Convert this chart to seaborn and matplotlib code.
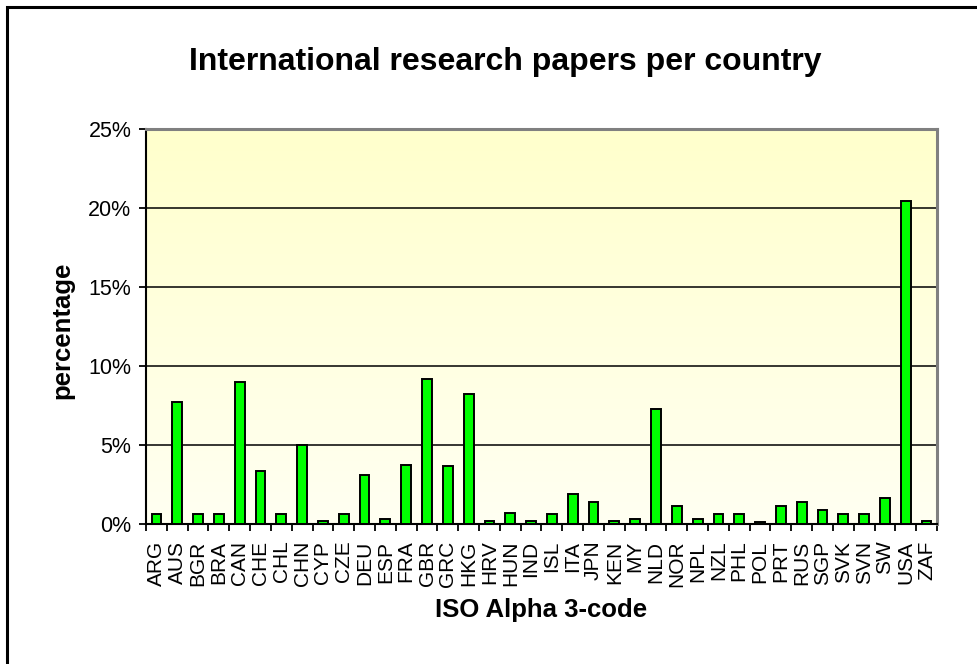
import numpy as np
import pandas as pd
import matplotlib
matplotlib.use("Agg")
import matplotlib.pyplot as plt
from matplotlib.patches import Rectangle
from matplotlib.colors import LinearSegmentedColormap
from matplotlib.ticker import FixedLocator, FuncFormatter
import seaborn as sns

countries = ["ARG", "AUS", "BGR", "BRA", "CAN", "CHE", "CHL", "CHN", "CYP", "CZE",
             "DEU", "ESP", "FRA", "GBR", "GRC", "HKG", "HRV", "HUN", "IND", "ISL",
             "ITA", "JPN", "KEN", "MY", "NLD", "NOR", "NPL", "NZL", "PHL", "POL",
             "PRT", "RUS", "SGP", "SVK", "SVN", "SW", "USA", "ZAF"]
share = [0.61, 7.7, 0.61, 0.61, 8.97, 3.37, 0.61, 5.0, 0.22, 0.61,
         3.12, 0.34, 3.75, 9.2, 3.65, 8.2, 0.22, 0.72, 0.22, 0.61,
         1.88, 1.37, 0.22, 0.34, 7.3, 1.12, 0.34, 0.61, 0.61, 0.1,
         1.12, 1.37, 0.87, 0.61, 0.61, 1.63, 20.45, 0.22]
yticks = [0, 5, 10, 15, 20, 25]

df = pd.DataFrame({"country": countries, "share": share})

sns.set_style("white")
plt.rcParams["font.family"] = ["Liberation Sans", "DejaVu Sans"]
plt.rcParams.update({"text.color": "black", "axes.labelcolor": "black",
                     "xtick.color": "black", "ytick.color": "black"})

fig = plt.figure(figsize=(9.78, 6.64), dpi=100)
fig.patch.set_facecolor("white")

# outer chart frame
fig.add_artist(Rectangle((7 / 978, -0.05), 1.2, 1 - 7 / 664 + 0.05,
                         transform=fig.transFigure, fill=False,
                         edgecolor="black", linewidth=2.2, zorder=0))

ax = fig.add_axes([146 / 978, 1 - 524 / 664, (937 - 146) / 978, (524 - 129) / 664])

# pale yellow gradient fill of the plotting area
cmap = LinearSegmentedColormap.from_list("bg", ["#FFFFF2", "#FFFFCC"])
grad = np.linspace(0, 1, 256).reshape(-1, 1)
ax.imshow(grad, aspect="auto", cmap=cmap, origin="lower",
          extent=[0, 1, 0, 1], transform=ax.transAxes, zorder=0)

sns.barplot(data=df, x="country", y="share", color="#00FF00", width=0.47,
            edgecolor="black", linewidth=1.4, saturation=1, ax=ax, zorder=3)

n = len(countries)
ax.set_xlim(-0.5, n - 0.5)
ax.set_ylim(0, 25)
ax.set_yticks(yticks)
ax.yaxis.set_major_formatter(FuncFormatter(lambda v, p: f"{v:.0f}%"))
for v in yticks[1:-1]:
    ax.axhline(v, color="black", linewidth=1.1, zorder=2)

ax.xaxis.set_minor_locator(FixedLocator(np.arange(-0.5, n, 1.0)))
ax.tick_params(axis="x", which="major", length=0, labelsize=15, rotation=90, pad=12)
ax.tick_params(axis="x", which="minor", length=5, width=1.3, color="black", direction="out")
ax.tick_params(axis="y", length=5, width=1.3, color="black", direction="out",
               labelsize=15.5, pad=5.5)
ax.tick_params(bottom=True, left=True, which="both")

for s in ["left", "bottom"]:
    ax.spines[s].set_color("black")
    ax.spines[s].set_linewidth(1.5)
for s in ["top", "right"]:
    ax.spines[s].set_color("#808080")
    ax.spines[s].set_linewidth(2.2)
    ax.spines[s].set_visible(True)

ax.set_xlabel("")
ax.set_ylabel("")
fig.text(541 / 978, 1 - 610 / 664, "ISO Alpha 3-code", ha="center", va="center",
         fontsize=18.5, fontweight="bold")
fig.text(62 / 978, 1 - 330 / 664, "percentage", ha="center", va="center",
         rotation=90, fontsize=18.5, fontweight="bold")

fig.text(505 / 978, 1 - 62 / 664, "International research papers per country",
         ha="center", va="center", fontsize=23, fontweight="bold")

fig.savefig("out.png", dpi=100, facecolor="white")
